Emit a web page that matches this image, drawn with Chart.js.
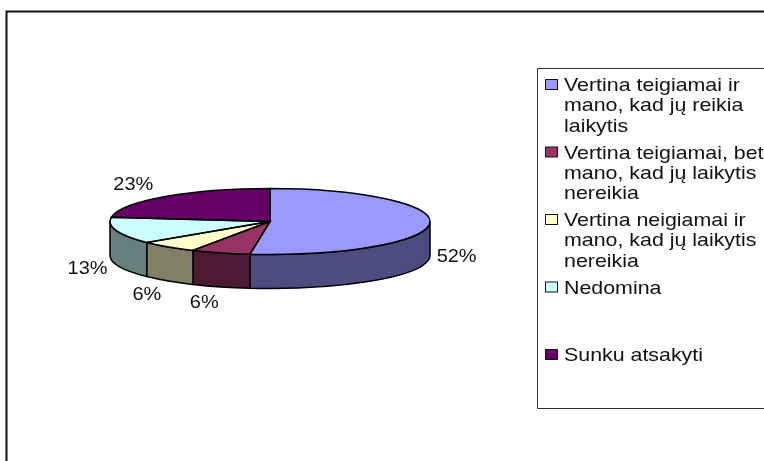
<!DOCTYPE html>
<html>
<head>
<meta charset="utf-8">
<style>
  html, body { margin: 0; padding: 0; background: #fff; }
  canvas { display: block; }
</style>
<script src="https://cdn.jsdelivr.net/npm/chart.js@4"></script>
</head>
<body>
<canvas id="grafikas" width="764" height="461"></canvas>
<script>
const kategorijos = [
    "Vertina teigiamai ir mano, kad jų reikia laikytis",
    "Vertina teigiamai, bet mano, kad jų laikytis nereikia",
    "Vertina neigiamai ir mano, kad jų laikytis nereikia",
    "Nedomina",
    "Sunku atsakyti"
];
const reiksmes = [52, 6, 6, 13, 23];
const spalvos = ["#9999FF", "#993366", "#FFFFCC", "#CCFFFF", "#660066"];
const sonoSpalvos = ["#4C4C80", "#4D1A33", "#808066", "#668080", "#330033"];

// legend lines as they wrap in the original
const legendosEilutes = [
    ["Vertina teigiamai ir", "mano, kad jų reikia", "laikytis"],
    ["Vertina teigiamai, bet", "mano, kad jų laikytis", "nereikia"],
    ["Vertina neigiamai ir", "mano, kad jų laikytis", "nereikia"],
    ["Nedomina", "", ""],
    ["Sunku atsakyti"]
];

// small corrections for the percent labels, px
const etikeciuPoslinkiai = [[-3, 0], [-7, -3], [-2, -1], [0, 0], [-11, -27]];

const suplojimas = 33 / 160;  // pie is a flattened circle
const gylis = 34;             // height of the side wall
const sriftas = '18.5px "Liberation Sans", Arial, sans-serif';

function istemptasTekstas(ctx, tekstas, x, y, plotis) {
    ctx.save();
    ctx.translate(x, y);
    ctx.scale(plotis, 1);
    ctx.fillText(tekstas, 0, 0);
    ctx.restore();
}

const remeliai = {
    id: "remeliai",
    beforeDraw(chart) {
        const ctx = chart.ctx;
        ctx.save();
        ctx.strokeStyle = "#111";
        ctx.lineWidth = 2;
        ctx.beginPath();
        ctx.moveTo(6.5, 461);
        ctx.lineTo(6.5, 11.5);
        ctx.lineTo(764, 11.5);
        ctx.stroke();
        ctx.lineWidth = 1;
        ctx.strokeStyle = "#333";
        ctx.beginPath();
        ctx.moveTo(770, 68.5);
        ctx.lineTo(537.5, 68.5);
        ctx.lineTo(537.5, 408.5);
        ctx.lineTo(770, 408.5);
        ctx.stroke();
        ctx.restore();
    }
};

const pyragas3d = {
    id: "pyragas3d",
    beforeDatasetsDraw(chart) {
        const ctx = chart.ctx;
        const arcs = chart.getDatasetMeta(0).data;
        const { x: cx, y: cy, outerRadius: r } = arcs[0];

        // side wall, only for the part of the rim facing us
        arcs.forEach((arc, i) => {
            const a0 = Math.max(arc.startAngle, 0);
            const a1 = Math.min(arc.endAngle, Math.PI);
            if (a1 <= a0) return;
            ctx.beginPath();
            ctx.ellipse(cx, cy, r, r * suplojimas, 0, a0, a1);
            ctx.ellipse(cx, cy + gylis, r, r * suplojimas, 0, a1, a0, true);
            ctx.closePath();
            ctx.fillStyle = sonoSpalvos[i];
            ctx.fill();
            ctx.lineWidth = 1.5;
            ctx.strokeStyle = "#000";
            ctx.stroke();
        });

        // top of the pie is drawn by chart.js, flattened
        ctx.save();
        ctx.translate(cx, cy);
        ctx.scale(1, suplojimas);
        ctx.translate(-cx, -cy);
    },
    afterDatasetsDraw(chart) {
        const ctx = chart.ctx;
        ctx.restore();

        const arcs = chart.getDatasetMeta(0).data;
        const { x: cx, y: cy, outerRadius: r } = arcs[0];

        // outlines after restore so the line width stays even
        arcs.forEach(arc => {
            ctx.beginPath();
            ctx.moveTo(cx, cy);
            ctx.ellipse(cx, cy, r, r * suplojimas, 0, arc.startAngle, arc.endAngle);
            ctx.closePath();
            ctx.lineWidth = 1.5;
            ctx.strokeStyle = "#000";
            ctx.stroke();
        });

        // percent labels
        ctx.save();
        ctx.font = sriftas;
        ctx.fillStyle = "#111";
        ctx.textAlign = "center";
        ctx.textBaseline = "middle";
        arcs.forEach((arc, i) => {
            const vid = (arc.startAngle + arc.endAngle) / 2;
            const lx = cx + Math.cos(vid) * 190 + etikeciuPoslinkiai[i][0];
            const ly = cy + 32 + Math.sin(vid) * 55 + etikeciuPoslinkiai[i][1];
            istemptasTekstas(ctx, reiksmes[i] + "%", lx, ly, 1.08);
        });
        ctx.restore();
    },
    afterDraw(chart) {
        const ctx = chart.ctx;
        ctx.save();
        ctx.font = sriftas;
        ctx.textAlign = "left";
        ctx.textBaseline = "alphabetic";
        let y = 91;
        legendosEilutes.forEach((eilutes, i) => {
            ctx.fillStyle = spalvos[i];
            ctx.strokeStyle = "#111";
            ctx.lineWidth = 1;
            ctx.fillRect(545.5, y - 11.5, 12, 10);
            ctx.strokeRect(545.5, y - 11.5, 12, 10);
            ctx.fillStyle = "#111";
            eilutes.forEach((tekstas, j) => {
                if (tekstas) istemptasTekstas(ctx, tekstas, 564, y + j * 20.3, 1.155);
            });
            y += eilutes.length * 20.3 + 6.6;
        });
        ctx.restore();
    }
};

new Chart(document.getElementById("grafikas"), {
    type: "pie",
    data: {
        labels: kategorijos,
        datasets: [{
            data: reiksmes,
            backgroundColor: spalvos,
            borderWidth: 0,
            clip: false
        }]
    },
    options: {
        responsive: false,
        animation: false,
        events: [],
        radius: 160,
        layout: { padding: { left: 0, top: 0, right: 224, bottom: 18 } },
        plugins: {
            legend: { display: false },
            tooltip: { enabled: false }
        }
    },
    plugins: [remeliai, pyragas3d]
});
</script>
</body>
</html>
